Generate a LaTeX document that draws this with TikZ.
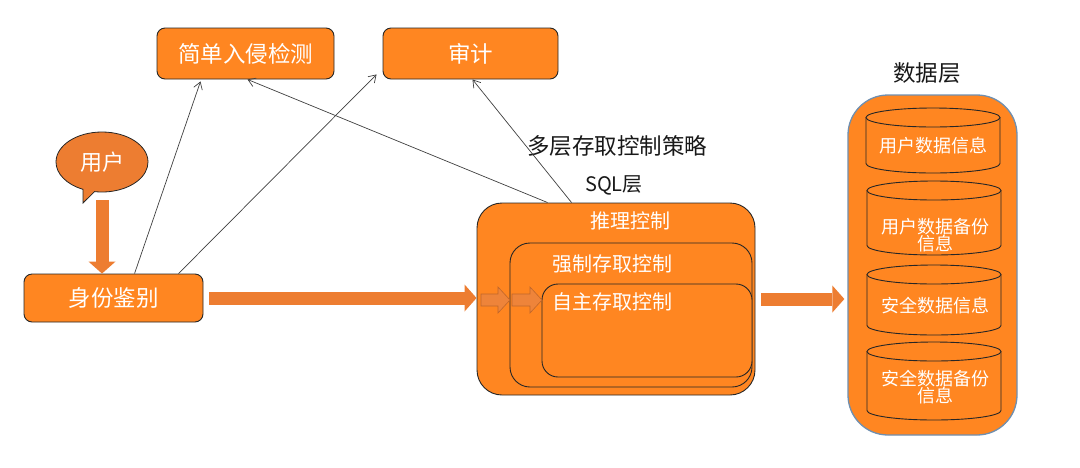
\documentclass[tikz,border=0pt]{standalone}
\usepackage{fontspec}
\setmainfont{Noto Sans CJK SC}
\usetikzlibrary{shapes.callouts,arrows.meta,calc}
\definecolor{boxor}{HTML}{FF8621}
\definecolor{arror}{HTML}{ED7D31}
\definecolor{edge}{HTML}{262626}
\definecolor{dbedge}{HTML}{6F8FB0}
\definecolor{thin}{HTML}{404040}
\definecolor{smallor}{HTML}{EE843A}
\definecolor{smalledge}{HTML}{C0662A}
\newcommand\fs[1]{\fontsize{#1}{#1}\selectfont}
\begin{document}
\begin{tikzpicture}[x=1pt,y=1pt,
  box/.style={draw=edge, line width=0.9pt, fill=boxor, rounded corners=8pt, text=white, font=\fs{22.5}, inner sep=0pt},
  layer/.style={draw=edge, line width=0.9pt, fill=boxor, inner sep=0pt},
  wtext/.style={text=white, inner sep=0pt},
  btext/.style={text=black!90, inner sep=0pt, font=\fs{22.5}},
  cyltext/.style={text=white, inner sep=0pt, font=\fs{18}, align=center},
  cylline/.style={draw=edge, line width=0.9pt},
  thinarr/.style={draw=thin, line width=0.7pt, -{Straight Barb[length=7pt,width=9pt]}},
  blockarr/.style={draw=arror, line width=13pt, -{Triangle[length=12pt,width=27pt,line width=0pt]}},
  smallarr/.style={fill=smallor, draw=smalledge, line width=0.6pt}
]
\useasboundingbox (0,0) rectangle (1080,-467);
\fill[white] (0,0) rectangle (1080,-467);

% top boxes
\node[box, minimum width=177pt, minimum height=51pt] (ids) at (245.5,-53.5) {简单入侵检测};
\node[box, minimum width=175pt, minimum height=51pt] (sj) at (470.5,-53.5) {审计};

% user bubble
\node[ellipse callout, callout absolute pointer={(83,-203)}, draw=edge, line width=0.8pt, fill=arror,
      minimum width=92pt, minimum height=60pt, text=white, font=\fs{22}, inner sep=0pt] (user) at (102,-162) {用户};

% identity
\node[box, minimum width=179pt, minimum height=48pt] (sfjb) at (113.5,-298) {身份鉴别};

% SQL layer
\node[layer, rounded corners=25pt, minimum width=278pt, minimum height=192pt] (sql) at (616,-299) {};
\node[layer, rounded corners=20pt, minimum width=242pt, minimum height=144pt] (mid) at (631,-315) {};
\node[layer, rounded corners=16pt, minimum width=210pt, minimum height=93pt] (inner) at (647,-330.5) {};
\node[wtext, font=\fs{20}] (tl) at (630,-221) {推理控制};
\node[wtext, font=\fs{20}] (qz) at (612,-264) {强制存取控制};
\node[wtext, font=\fs{20}] (zz) at (612,-302) {自主存取控制};

\node[btext] (dc) at (617,-146) {多层存取控制策略};
\node[btext, font=\fs{20}] (sqll) at (614,-185) {SQL层};

% data layer
\node[btext] (dtitle) at (927,-73) {数据层};
\node[draw=dbedge, line width=1.3pt, fill=boxor, rounded corners=40pt, minimum width=169pt, minimum height=340pt, inner sep=0pt] (db) at (932.5,-265) {};

\newcommand\dbcyl[4]{% cx, top, bottom
  \draw[cylline] (#1-67,-#2-9.5) -- (#1-67,-#3+9.5)
     arc[start angle=180,end angle=360,x radius=67,y radius=9.5] -- (#1+67,-#2-9.5);
  \draw[cylline] (#1,-#2-9.5) ellipse[x radius=67, y radius=9.5];
}
\dbcyl{933}{108}{173}{}
\dbcyl{934}{181}{255}{}
\dbcyl{934}{265}{335}{}
\dbcyl{934}{342}{420}{}
\node[cyltext] (c1) at (933,-146) {用户数据信息};
\node[cyltext] (c2) at (935,-235) {用户数据备份\\[-1pt]信息};
\node[cyltext] (c3) at (935,-306) {安全数据信息};
\node[cyltext] (c4) at (935,-387) {安全数据备份\\[-1pt]信息};

% block arrows
\draw[blockarr] ([yshift=-8pt]user.south) -- (user.south |- sfjb.north) ;
\draw[blockarr, shorten >=0pt] ([xshift=6pt]sfjb.east) -- (sfjb.east -| sql.west);
\draw[blockarr, shorten >=3pt] ([xshift=6pt]sql.east) -- (sql.east -| db.west);

% small arrows inside
\draw[smallarr] (481,-294) -- (498,-294) -- (498,-287) -- (510,-300) -- (498,-313) -- (498,-306) -- (481,-306) -- cycle;
\draw[smallarr] (512,-294) -- (530,-294) -- (530,-287) -- (542,-300) -- (530,-313) -- (530,-306) -- (512,-306) -- cycle;

% thin connectors
\draw[thinarr] ([xshift=111pt]sfjb.north west) -- ([xshift=-45pt,yshift=-2pt]ids.south);
\draw[thinarr] ([xshift=155pt]sfjb.north west) -- ([xshift=-6pt,yshift=5pt]sj.south west);
\draw[thinarr] ([xshift=71pt]sql.north west) -- ([xshift=2pt]ids.south);
\draw[thinarr] ([xshift=95pt]sql.north west) -- ([xshift=2pt]sj.south);
\end{tikzpicture}
\end{document}
